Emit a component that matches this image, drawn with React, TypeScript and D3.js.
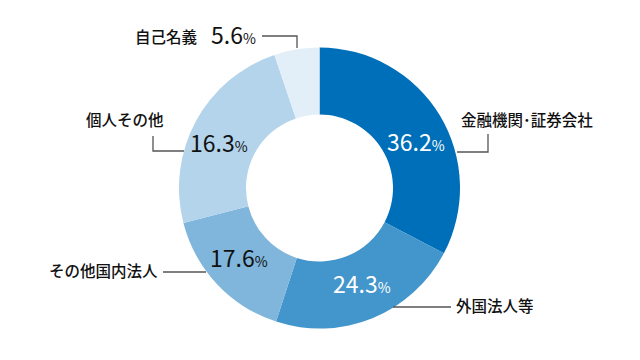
import React from "react";
import * as d3 from "d3";

const categories = ["金融機関･証券会社", "外国法人等", "その他国内法人", "個人その他", "自己名義"];
// percentages printed on the chart
const values = [36.2, 24.3, 17.6, 16.3, 5.6];
// slice sizes as drawn in the picture (angles)
const drawnShares = [32.7, 22.3, 16.0, 23.8, 5.2];
const colors = ["#006fb9", "#4396cb", "#80b6db", "#b3d4eb", "#e3eff8"];
const valueColors = ["#ffffff", "#ffffff", "#111111", "#111111", "#111111"];

// layout for annotations (label pos, value pos, leader polyline)
const labelLayout = [
  { lx: 461, ly: 126, vx: 387, vy: 151, line: [[457, 152], [488, 152], [488, 134]] },
  { lx: 456, ly: 312, vx: 333, vy: 293, line: [[393, 307], [451, 307]] },
  { lx: 49, ly: 277, vx: 210, vy: 267, line: [[163, 272], [206, 272]] },
  { lx: 86, ly: 126, vx: 190, vy: 152, line: [[153, 136], [153, 151], [184, 151]] },
  { lx: 135, ly: 43, vx: 211, vy: 44, line: [[262, 36], [297, 36], [297, 48]] },
];

export default function App() {
  const cx = 319.5, cy = 188, R = 140.5, r = 73.5;
  const pie = d3.pie<number>().sort(null).value((d) => d)(drawnShares);
  const arc = d3.arc<d3.PieArcDatum<number>>().innerRadius(r).outerRadius(R);
  const font = "'Noto Sans CJK JP', 'Noto Sans', sans-serif";
  return (
    <svg width={640} height={360} style={{ position: "absolute", left: 0, top: 0 }} fontFamily={font}>
      <rect width={640} height={360} fill="#fff" />
      <g transform={`translate(${cx},${cy})`}>
        {pie.map((p, i) => (
          <path key={i} d={arc(p) || ""} fill={colors[i]} />
        ))}
      </g>
      {labelLayout.map((l, i) => (
        <g key={i}>
          <polyline points={l.line.map((q) => q.join(",")).join(" ")} fill="none" stroke="#555" strokeWidth={1.3} />
          <text x={l.lx} y={l.ly} fontSize={15.5} fontWeight={500} fill="#111">{categories[i]}</text>
          <text x={l.vx} y={l.vy} fill={valueColors[i]}>
            <tspan fontSize={23}>{values[i].toFixed(1)}</tspan>
            <tspan fontSize={14}>%</tspan>
          </text>
        </g>
      ))}
    </svg>
  );
}
